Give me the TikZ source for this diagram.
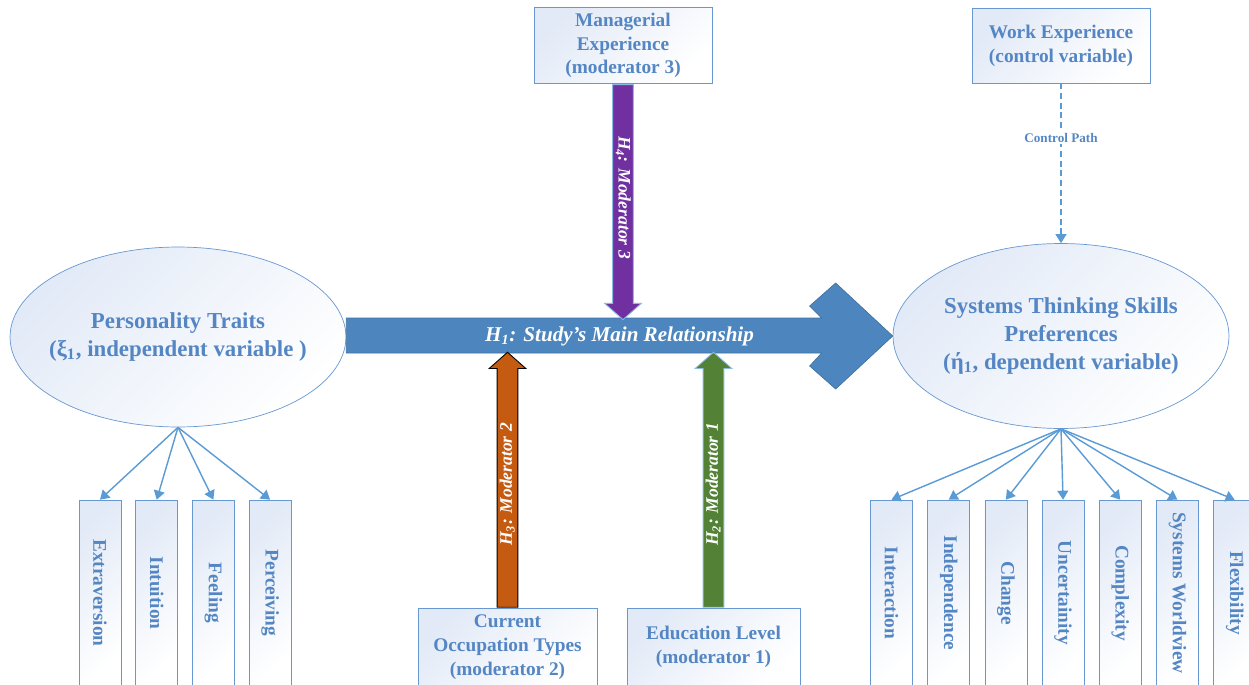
\documentclass[tikz,border=0pt]{standalone}
\usepackage{fontspec}
\setmainfont{Liberation Serif}
\usepackage{graphicx}
\usepackage{xcolor}
\usetikzlibrary{arrows.meta,positioning,calc,shapes.geometric,shapes.arrows}

\definecolor{txtblue}{RGB}{84,134,196}
\definecolor{boxline}{RGB}{104,152,210}
\definecolor{shadeblue}{RGB}{226,234,247}
\definecolor{mainblue}{RGB}{77,134,190}
\definecolor{lineblue}{RGB}{91,155,213}
\definecolor{mpurple}{RGB}{112,48,160}
\definecolor{morange}{RGB}{197,90,17}
\definecolor{mgreen}{RGB}{83,129,53}

\tikzset{
  latent/.style={draw=boxline,ellipse,top color=shadeblue,bottom color=white,shading angle=45,
    minimum width=6.72cm,minimum height=3.6cm,inner xsep=-12pt,inner ysep=0pt,align=center,text=txtblue,
    font=\bfseries\fontsize{13}{15.8}\selectfont},
  modbox/.style={draw=boxline,rectangle,top color=shadeblue,bottom color=white,shading angle=45,
    minimum width=3.56cm,minimum height=1.5cm,align=center,text=txtblue,
    font=\bfseries\fontsize{11}{13.5}\selectfont},
  ind/.style={draw=boxline,rectangle,top color=shadeblue,bottom color=white,shading angle=45,
    minimum width=0.84cm,minimum height=3.72cm,inner sep=0pt,text=txtblue,
    font=\bfseries\fontsize{11}{13}\selectfont},
  link/.style={draw=lineblue,line width=0.8pt,-{Triangle[length=0.18cm,width=0.22cm]}},
  modarrow/.style={single arrow,single arrow head extend=0.16cm,single arrow tip angle=97,
    minimum width=0.72cm,inner xsep=0pt,inner ysep=1.15pt,text height=7pt,text depth=2pt,
    anchor=tail,line width=0.5pt,text=white,font=\bfseries\itshape\fontsize{10}{12}\selectfont},
}

\begin{document}
\begin{tikzpicture}[x=0.02cm,y=-0.02cm]
  \useasboundingbox (0,0) rectangle (1249,684);
  \fill[white] (0,0) rectangle (1249,684);

  % latent variables
  \node[latent] (pt) at (178,337) {Personality Traits\\(ξ\textsubscript{1}, independent variable )};
  \node[latent,minimum height=3.7cm] (st) at (1061,336) {Systems Thinking Skills\\Preferences\\(ή\textsubscript{1}, dependent variable)};

  % moderators and control
  \node[modbox] (mgr) at (623,45.5) {Managerial\\Experience\\(moderator 3)};
  \node[modbox] (work) at (1061,45.5) {Work Experience\\(control variable)};
  \node[modbox,minimum width=3.58cm,minimum height=1.56cm] (cur) at (507.5,647) {Current\\Occupation Types\\(moderator 2)};
  \node[modbox,minimum width=3.46cm,minimum height=1.56cm] (edu) at (713.5,647) {Education Level\\(moderator 1)};

  % main relationship
  \coordinate (bartop) at ($(pt.east)+(0,-19)$);
  \coordinate (barbot) at ($(pt.east)+(0,16)$);
  \filldraw[fill=mainblue,draw=mainblue!85!black,line width=0.4pt] (bartop) -- ($(st.west)+(-71,-18)$)
    -- ++(-12,-12) -- ++(26,-23) -- (st.west) -- ++(-57,53) -- ++(-26,-23) -- ++(12,-13)
    -- (barbot) -- cycle;
  \node[text=white,font=\bfseries\itshape\fontsize{12}{14}\selectfont] (h1) at ($(pt.east)!.5!(st.west)$) {H\textsubscript{1}: Study’s Main Relationship};

  \node[modarrow,fill=mpurple,draw=lineblue!70,rotate=-90,minimum height=4.7cm] (h4) at (mgr.south) {H\textsubscript{4}: Moderator 3};
  \node[modarrow,fill=morange,draw=black,rotate=90,minimum height=5.1cm] (h3) at (cur.north) {H\textsubscript{3}: Moderator 2};
  \node[modarrow,fill=mgreen,draw=lineblue!70,rotate=90,minimum height=5.1cm] (h2) at (edu.north) {H\textsubscript{2}: Moderator 1};

  % control path
  \draw[link,line width=0.6pt,dash pattern=on 3.5pt off 2pt] (work.south) -- node[pos=.34,fill=white,inner sep=1pt,text=txtblue,font=\bfseries\fontsize{7.5}{9}\selectfont] (ctl) {Control Path} (st.north);

  % indicators of personality traits
  \node[ind] (ext) at (100,593) {\rotatebox{-90}{Extraversion}};
  \node[ind,right=0.28cm of ext] (intu) {\rotatebox{-90}{Intuition}};
  \node[ind,right=0.28cm of intu] (feel) {\rotatebox{-90}{Feeling}};
  \node[ind,right=0.28cm of feel] (perc) {\rotatebox{-90}{Perceiving}};

  % indicators of systems thinking
  \node[ind] (inter) at (891.5,593) {\rotatebox{-90}{Interaction}};
  \node[ind,right=0.29cm of inter] (indep) {\rotatebox{-90}{Independence}};
  \node[ind,right=0.29cm of indep] (chg) {\rotatebox{-90}{Change}};
  \node[ind,right=0.29cm of chg] (unc) {\rotatebox{-90}{Uncertainity}};
  \node[ind,right=0.29cm of unc] (cplx) {\rotatebox{-90}{Complexity}};
  \node[ind,right=0.29cm of cplx] (world) {\rotatebox{-90}{Systems Worldview}};
  \node[ind,right=0.29cm of world] (flex) {\rotatebox{-90}{Flexibility}};

  \draw[link] (pt.south) -- (ext.north);
  \draw[link] (pt.south) -- (intu.north);
  \draw[link] (pt.south) -- (feel.north);
  \draw[link] (pt.south) -- (perc.north);

  \draw[link] (st.south) -- (inter.north);
  \draw[link] (st.south) -- (indep.north);
  \draw[link] (st.south) -- (chg.north);
  \draw[link] (st.south) -- (unc.north);
  \draw[link] (st.south) -- (cplx.north);
  \draw[link] (st.south) -- (world.north);
  \draw[link] (st.south) -- (flex.north);
\end{tikzpicture}
\end{document}
